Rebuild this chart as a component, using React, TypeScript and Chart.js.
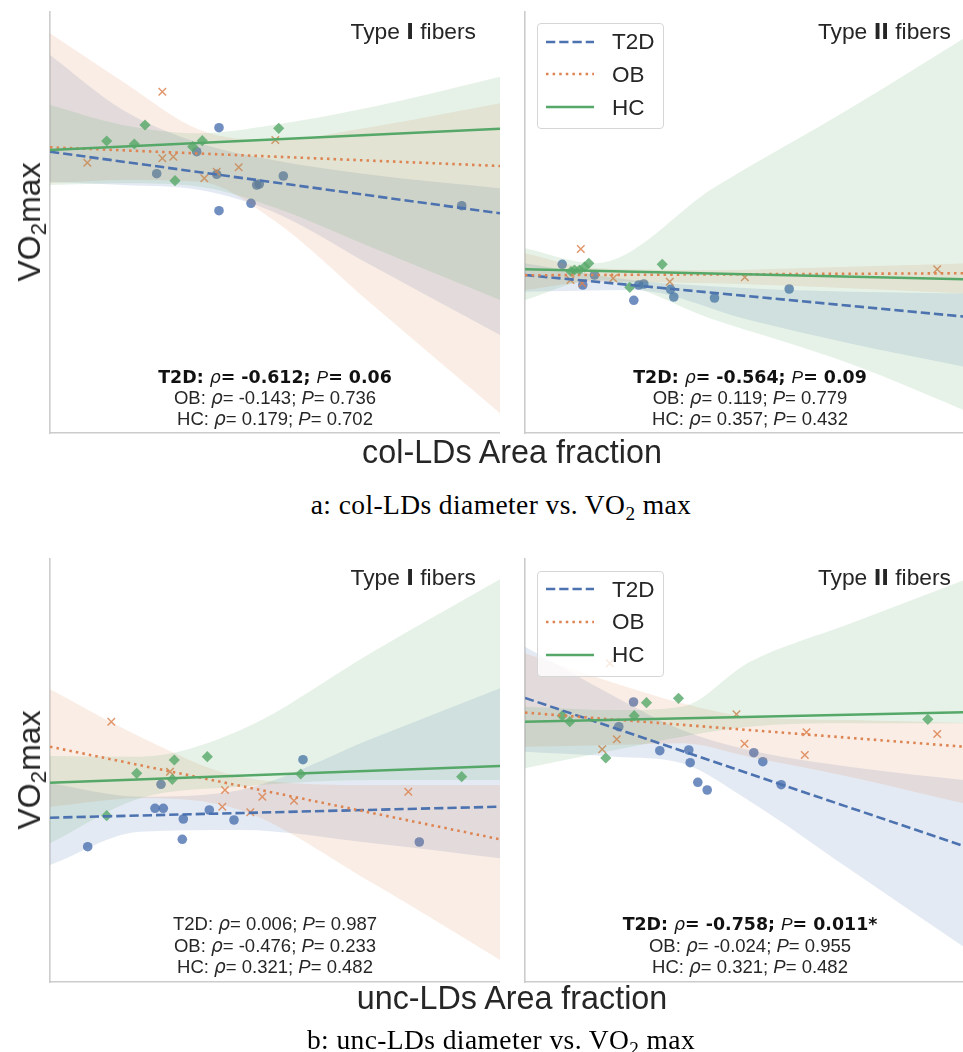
import React, { useEffect, useRef } from 'react';
import { Chart, registerables } from 'chart.js';
Chart.register(...registerables);

const BLUE = [76, 114, 176];
const ORANGE = [221, 132, 82];
const GREEN = [85, 168, 104];

const X_MAX = 450;
const Y_MAX_TOP = 422;
const Y_MAX_BOTTOM = 424;

// ---------- a: col-LDs, Type I fibers ----------
const A1_T2D_X = [169, 146.7, 106.7, 166.7, 169, 201, 206.7, 209.3, 233.3, 411.7];
const A1_T2D_Y = [305.3, 281.3, 259.3, 258.7, 222.3, 229.7, 248, 249, 257, 227.3];
const A1_OB_X = [112.3, 37.3, 112.3, 123.3, 154.3, 166.7, 188.7, 225.3];
const A1_OB_Y = [341.3, 270.3, 274.7, 276.3, 254.7, 261.3, 265.7, 293];
const A1_HC_X = [95, 56.7, 84.3, 142.7, 152.3, 125, 228.7];
const A1_HC_Y = [308, 292, 289, 286.3, 292.3, 252.3, 304.7];
const A1_T2D_FIT = [281.3, 219.7];
const A1_OB_FIT = [285.7, 267];
const A1_HC_FIT = [283, 304.3];
const A1_BAND_X = [0, 73, 150, 223, 323, 450];
const A1_T2D_HI = [378, 323, 289.7, 273, 258, 244.7];
const A1_T2D_LO = [251.3, 248, 243, 221.3, 166.7, 98];
const A1_OB_HI = [399.7, 351.3, 303, 293, 306.3, 329.7];
const A1_OB_LO = [249.7, 253, 251.3, 213.3, 127.7, 19.7];
const A1_HC_HI = [328, 308, 299.7, 308, 326.3, 356.3];
const A1_HC_LO = [248, 249.7, 246.3, 226, 185, 133];

// ---------- a: col-LDs, Type II fibers ----------
const A2_T2D_X = [37.2, 69.5, 57.8, 108.8, 113.8, 118.8, 145.5, 148.8, 189.5, 264.2];
const A2_T2D_Y = [168.7, 158, 148, 132.7, 148, 149, 143.7, 136, 135, 144];
const A2_OB_X = [55.8, 45.5, 57.2, 88.2, 144.8, 219.8, 412.2];
const A2_OB_Y = [184, 153, 149.7, 154.7, 151.3, 155.7, 163.7];
const A2_HC_X = [63.8, 59.5, 54.5, 49.5, 46, 137.2, 104.8];
const A2_HC_Y = [169.7, 166, 163, 163, 161.5, 168.7, 145.7];
const A2_T2D_FIT = [158, 115.4];
const A2_OB_FIT = [157.7, 159.8];
const A2_HC_FIT = [163.7, 153.5];
const A2_T2D_BAND_X = [0, 107, 224, 324, 450];
const A2_T2D_HI = [169.7, 153, 144.7, 141.3, 139.5];
const A2_T2D_LO = [141.3, 143, 113, 89.7, 64];
const A2_BAND_X = [0, 70, 190, 324, 450];
const A2_OB_HI = [179.7, 164.7, 163, 166.3, 170];
const A2_OB_LO = [143, 151.3, 149.7, 144.7, 139];
const A2_HC_HI = [184.7, 169.7, 246, 324, 401.6];
const A2_HC_LO = [133, 153, 113, 69.7, 18.3];

// ---------- b: unc-LDs, Type I fibers ----------
const B1_T2D_X = [37.7, 111, 105, 113.3, 133.3, 132.3, 159.3, 184, 253, 369.3];
const B1_T2D_Y = [135.3, 197.7, 173.7, 173.7, 163, 142.7, 172, 162, 222.3, 140];
const B1_OB_X = [61.3, 120, 175, 172.3, 212.3, 200.3, 244, 358.3];
const B1_OB_Y = [260.3, 210.3, 192, 175.3, 185.3, 169.7, 181.3, 190.3];
const B1_HC_X = [56.7, 86.7, 124.3, 122.3, 157.3, 250.7, 411.7];
const B1_HC_Y = [166.3, 208.7, 222, 202.7, 225.3, 208, 205.3];
const B1_T2D_FIT = [164.3, 175.3];
const B1_OB_FIT = [235.3, 142.7];
const B1_HC_FIT = [199.3, 216];
const B1_BAND_X = [0, 90, 190, 323, 450];
const B1_T2D_HI = [198.7, 185.3, 192, 243.7, 293.7];
const B1_T2D_LO = [117, 150.3, 152, 138.7, 123.7];
const B1_OB_HI = [292.7, 245.3, 205.3, 197, 197];
const B1_OB_LO = [175.3, 183.7, 172, 98.7, 22];
const B1_HC_HI = [226, 225.3, 251.7, 330.3, 402.7];
const B1_HC_LO = [138.7, 183.7, 195.3, 202, 202];

// ---------- b: unc-LDs, Type II fibers ----------
const B2_T2D_X = [108.5, 93.8, 134.8, 163.8, 165.2, 172.8, 182.2, 228.8, 237.8, 256.2];
const B2_T2D_Y = [280, 255.3, 231.3, 232, 219.3, 199.7, 192, 229.3, 220.3, 197.3];
const B2_OB_X = [77.2, 91.8, 211.5, 219.5, 281.5, 279.8, 412.2, 84.8];
const B2_OB_Y = [232.7, 242.7, 267.7, 238.3, 249.7, 227, 248, 318.7];
const B2_HC_X = [37.2, 44.8, 121.5, 153.5, 109.2, 80.8, 402.8];
const B2_HC_Y = [266.3, 260.3, 279.3, 283.7, 266.3, 224, 262.7];
const B2_T2D_FIT = [284.1, 132.1];
const B2_OB_FIT = [269.4, 234.4];
const B2_HC_FIT = [260.3, 270];
const B2_BAND_X = [0, 90, 157, 224, 324, 450];
const B2_T2D_HI = [335.3, 285.3, 252, 232, 215.3, 200.7];
const B2_T2D_LO = [230.3, 225.3, 218.7, 181.3, 113.3, 27.5];
const B2_OB_HI = [328.7, 298.7, 278.7, 265.3, 262, 258.7];
const B2_OB_LO = [235.3, 237, 238.7, 225.3, 205.3, 176];
const B2_HC_HI = [275.3, 272, 275.3, 319.7, 358, 406];
const B2_HC_LO = [213.7, 232, 245.3, 255.3, 258.7, 258.7];

// ---------- texts ----------
const A1_STATS = [["T2D", "-0.612", "0.06", true], ["OB", "-0.143", "0.736", false], ["HC", "0.179", "0.702", false]];
const A2_STATS = [["T2D", "-0.564", "0.09", true], ["OB", "0.119", "0.779", false], ["HC", "0.357", "0.432", false]];
const B1_STATS = [["T2D", "0.006", "0.987", false], ["OB", "-0.476", "0.233", false], ["HC", "0.321", "0.482", false]];
const B2_STATS = [["T2D", "-0.758", "0.011*", true], ["OB", "-0.024", "0.955", false], ["HC", "0.321", "0.482", false]];
const LEGEND_LABELS = ["T2D", "OB", "HC"];

type G = { x: number[]; y: number[]; fit: number[]; bx: number[]; hi: number[]; lo: number[] };
type P = { T2D: G; OB: G; HC: G };

const PANEL_A1: P = {
  T2D: { x: A1_T2D_X, y: A1_T2D_Y, fit: A1_T2D_FIT, bx: A1_BAND_X, hi: A1_T2D_HI, lo: A1_T2D_LO },
  OB: { x: A1_OB_X, y: A1_OB_Y, fit: A1_OB_FIT, bx: A1_BAND_X, hi: A1_OB_HI, lo: A1_OB_LO },
  HC: { x: A1_HC_X, y: A1_HC_Y, fit: A1_HC_FIT, bx: A1_BAND_X, hi: A1_HC_HI, lo: A1_HC_LO },
};
const PANEL_A2: P = {
  T2D: { x: A2_T2D_X, y: A2_T2D_Y, fit: A2_T2D_FIT, bx: A2_T2D_BAND_X, hi: A2_T2D_HI, lo: A2_T2D_LO },
  OB: { x: A2_OB_X, y: A2_OB_Y, fit: A2_OB_FIT, bx: A2_BAND_X, hi: A2_OB_HI, lo: A2_OB_LO },
  HC: { x: A2_HC_X, y: A2_HC_Y, fit: A2_HC_FIT, bx: A2_BAND_X, hi: A2_HC_HI, lo: A2_HC_LO },
};
const PANEL_B1: P = {
  T2D: { x: B1_T2D_X, y: B1_T2D_Y, fit: B1_T2D_FIT, bx: B1_BAND_X, hi: B1_T2D_HI, lo: B1_T2D_LO },
  OB: { x: B1_OB_X, y: B1_OB_Y, fit: B1_OB_FIT, bx: B1_BAND_X, hi: B1_OB_HI, lo: B1_OB_LO },
  HC: { x: B1_HC_X, y: B1_HC_Y, fit: B1_HC_FIT, bx: B1_BAND_X, hi: B1_HC_HI, lo: B1_HC_LO },
};
const PANEL_B2: P = {
  T2D: { x: B2_T2D_X, y: B2_T2D_Y, fit: B2_T2D_FIT, bx: B2_BAND_X, hi: B2_T2D_HI, lo: B2_T2D_LO },
  OB: { x: B2_OB_X, y: B2_OB_Y, fit: B2_OB_FIT, bx: B2_BAND_X, hi: B2_OB_HI, lo: B2_OB_LO },
  HC: { x: B2_HC_X, y: B2_HC_Y, fit: B2_HC_FIT, bx: B2_BAND_X, hi: B2_HC_HI, lo: B2_HC_LO },
};

const rgba = (c: number[], a: number) => `rgba(${c[0]},${c[1]},${c[2]},${a})`;
const STYLE: any = {
  T2D: { c: BLUE, dash: [9.25, 4], ps: 'circle', r: 4.8 },
  OB: { c: ORANGE, dash: [2.5, 4.1], ps: 'crossRot', r: 5.3 },
  HC: { c: GREEN, dash: [], ps: 'rectRot', r: 5.6 },
};

function buildDatasets(p: P) {
  const ds: any[] = [];
  for (const g of ['HC', 'OB', 'T2D']) {
    const s = STYLE[g];
    const d = (p as any)[g] as G;
    ds.push({
      data: [{ x: 0, y: d.fit[0] }, { x: X_MAX, y: d.fit[1] }],
      showLine: true, borderColor: rgba(s.c, 1), borderWidth: 2.6, borderDash: s.dash,
      borderCapStyle: 'butt', pointRadius: 0, fill: false,
    });
  }
  for (const g of ['HC', 'OB', 'T2D']) {
    const s = STYLE[g];
    const d = (p as any)[g] as G;
    ds.push({
      data: d.bx.map((x, i) => ({ x, y: d.hi[i] })),
      showLine: true, borderColor: 'rgba(0,0,0,0)', borderWidth: 0, pointRadius: 0, fill: false,
      cubicInterpolationMode: 'monotone', tension: 0.4,
    });
    ds.push({
      data: d.bx.map((x, i) => ({ x, y: d.lo[i] })),
      showLine: true, borderColor: 'rgba(0,0,0,0)', borderWidth: 0, pointRadius: 0, fill: '-1',
      backgroundColor: rgba(s.c, 0.15), cubicInterpolationMode: 'monotone', tension: 0.4,
    });
    const isCross = s.ps === 'crossRot';
    ds.push({
      data: d.x.map((x, i) => ({ x, y: d.y[i] })),
      showLine: false, pointStyle: s.ps, pointRadius: s.r,
      pointBackgroundColor: isCross ? 'rgba(0,0,0,0)' : rgba(s.c, 0.8),
      pointBorderColor: isCross ? rgba(s.c, 0.85) : 'rgba(0,0,0,0)',
      pointBorderWidth: isCross ? 1.5 : 0,
    });
  }
  return ds;
}

const FONT = "'Liberation Sans', Arial, Helvetica, sans-serif";
const TXT = '#262626';

function Panel({ left, top, h, data }: { left: number; top: number; h: number; data: P }) {
  const ref = useRef<HTMLCanvasElement>(null);
  useEffect(() => {
    const chart = new Chart(ref.current as HTMLCanvasElement, {
      type: 'scatter',
      data: { datasets: buildDatasets(data) },
      options: {
        animation: false,
        responsive: false,
        events: [],
        layout: { padding: { left: 2, bottom: 2, top: 0, right: 0 }, autoPadding: false },
        plugins: { legend: { display: false }, tooltip: { enabled: false } },
        scales: {
          x: {
            type: 'linear', min: 0, max: X_MAX,
            ticks: { display: false }, grid: { display: false, drawTicks: false },
            border: { display: true, color: '#cccccc', width: 1.6 },
          },
          y: {
            type: 'linear', min: 0, max: h,
            ticks: { display: false }, grid: { display: false, drawTicks: false },
            border: { display: true, color: '#cccccc', width: 1.6 },
          },
        },
      } as any,
    });
    return () => chart.destroy();
  }, []);
  return (
    <canvas ref={ref} width={X_MAX + 2} height={h + 2}
      style={{ position: 'absolute', left: left - 2, top, width: X_MAX + 2, height: h + 2 }} />
  );
}

function Title({ right, baseline, roman }: { right: number; baseline: number; roman: string }) {
  const fs = 22.8;
  return (
    <div style={{ position: 'absolute', left: right, top: baseline - 0.8465 * fs, transform: 'translateX(-100%)',
      fontSize: fs, lineHeight: 1, whiteSpace: 'nowrap', color: TXT, fontFamily: FONT }}>
      Type <b style={{ fontFamily: "'DejaVu Sans', sans-serif", fontSize: 20.5 }}>{roman}</b> fibers
    </div>
  );
}

function Stats({ cx, bottom, stats, offsets }: { cx: number; bottom: number; stats: any[]; offsets: number[] }) {
  return (
    <>
      {stats.map((s, i) => {
        const bold = s[3];
        const fs = bold ? 17.4 : 18.5;
        const asc = bold ? 0.928 * fs + (fs - 1.164 * fs) / 2 : 0.8465 * fs;
        return (
          <div key={i} style={{ position: 'absolute', left: cx, top: bottom - offsets[i] - asc,
            transform: 'translateX(-50%)', fontSize: fs, lineHeight: 1, whiteSpace: 'nowrap', color: bold ? '#111' : TXT,
            fontFamily: bold ? "'DejaVu Sans', sans-serif" : FONT, fontWeight: bold ? 'bold' : 'normal' }}>
            {s[0]}: <i style={{ fontWeight: 'normal', fontFamily: "'DejaVu Sans', sans-serif" }}>ρ</i>= {s[1]}; <i style={{ fontWeight: 'normal', fontFamily: FONT }}>P</i>= {s[2]}
          </div>
        );
      })}
    </>
  );
}

function Legend({ left, top }: { left: number; top: number }) {
  const rows = [26, 58.4, 91.7];
  const dashes = ['9.25 4', '2.5 4.1', ''];
  const cols = [BLUE, ORANGE, GREEN];
  return (
    <div style={{ position: 'absolute', left, top, width: 127, height: 106, boxSizing: 'border-box',
      border: '1px solid #d6d6d6', borderRadius: 4, background: 'rgba(255,255,255,0.8)' }}>
      {LEGEND_LABELS.map((lab, i) => (
        <React.Fragment key={lab}>
          <svg width={50} height={6} style={{ position: 'absolute', left: 7, top: rows[i] - 8.5 - 3 }}>
            <line x1={1} y1={3} x2={49} y2={3} stroke={rgba(cols[i], 1)} strokeWidth={2.6}
              strokeDasharray={dashes[i] || undefined} />
          </svg>
          <div style={{ position: 'absolute', left: 74, top: rows[i] - 0.8465 * 22.5, fontSize: 22.5, lineHeight: 1,
            color: TXT, fontFamily: FONT, whiteSpace: 'nowrap' }}>{lab}</div>
        </React.Fragment>
      ))}
    </div>
  );
}

function YLabel({ cx, cy }: { cx: number; cy: number }) {
  return (
    <div style={{ position: 'absolute', left: cx, top: cy, transform: 'translate(-50%,-50%) rotate(-90deg)',
      fontSize: 32, lineHeight: 1, whiteSpace: 'nowrap', color: TXT, fontFamily: FONT }}>
      VO<span style={{ fontSize: '0.7em', position: 'relative', top: '0.25em' }}>2</span>max
    </div>
  );
}

function XLabel({ cx, cy, text }: { cx: number; cy: number; text: string }) {
  return (
    <div style={{ position: 'absolute', left: cx, top: cy, transform: 'translate(-50%,-50%)',
      fontSize: 32.3, lineHeight: 1, whiteSpace: 'nowrap', color: TXT, fontFamily: FONT }}>{text}</div>
  );
}

function Caption({ cx, cy, prefix }: { cx: number; cy: number; prefix: string }) {
  return (
    <div style={{ position: 'absolute', left: cx, top: cy, transform: 'translate(-50%,-50%)',
      fontSize: 27.5, letterSpacing: 0.4, lineHeight: 1, whiteSpace: 'nowrap', color: '#000',
      fontFamily: "'Liberation Serif', 'Times New Roman', serif" }}>
      {prefix} vs. VO<span style={{ fontSize: '0.7em', position: 'relative', top: '0.3em' }}>2</span> max
    </div>
  );
}

export default function App() {
  const L1 = 50, L2 = 525, T1 = 11, T2 = 558;
  const bot1 = T1 + Y_MAX_TOP, bot2 = T2 + Y_MAX_BOTTOM;
  return (
    <div style={{ position: 'absolute', left: 0, top: 0, width: 963, height: 1052, overflow: 'hidden', background: '#fff' }}>
      <Panel left={L1} top={T1} h={Y_MAX_TOP} data={PANEL_A1} />
      <Panel left={L2} top={T1} h={Y_MAX_TOP} data={PANEL_A2} />
      <Panel left={L1} top={T2} h={Y_MAX_BOTTOM} data={PANEL_B1} />
      <Panel left={L2} top={T2} h={Y_MAX_BOTTOM} data={PANEL_B2} />

      <Title right={L1 + X_MAX - 24} baseline={T1 + 28.3} roman="I" />
      <Title right={L2 + X_MAX - 24} baseline={T1 + 28.3} roman="II" />
      <Title right={L1 + X_MAX - 24} baseline={T2 + 27.5} roman="I" />
      <Title right={L2 + X_MAX - 24} baseline={T2 + 27.5} roman="II" />

      <Stats cx={L1 + X_MAX / 2} bottom={bot1} stats={A1_STATS} offsets={[49.7, 28, 7]} />
      <Stats cx={L2 + X_MAX / 2} bottom={bot1} stats={A2_STATS} offsets={[49.7, 28, 7]} />
      <Stats cx={L1 + X_MAX / 2} bottom={bot2} stats={B1_STATS} offsets={[51, 29.7, 8.7]} />
      <Stats cx={L2 + X_MAX / 2} bottom={bot2} stats={B2_STATS} offsets={[51, 29.7, 8.7]} />

      <Legend left={537} top={T1 + 12.3} />
      <Legend left={537} top={T2 + 12.7} />

      <YLabel cx={29} cy={(T1 + bot1) / 2} />
      <YLabel cx={29} cy={(T2 + bot2) / 2} />
      <XLabel cx={512} cy={452} text="col-LDs Area fraction" />
      <XLabel cx={512} cy={998} text="unc-LDs Area fraction" />
      <Caption cx={501} cy={505} prefix="a: col-LDs diameter" />
      <Caption cx={501} cy={1040} prefix="b: unc-LDs diameter" />
    </div>
  );
}
